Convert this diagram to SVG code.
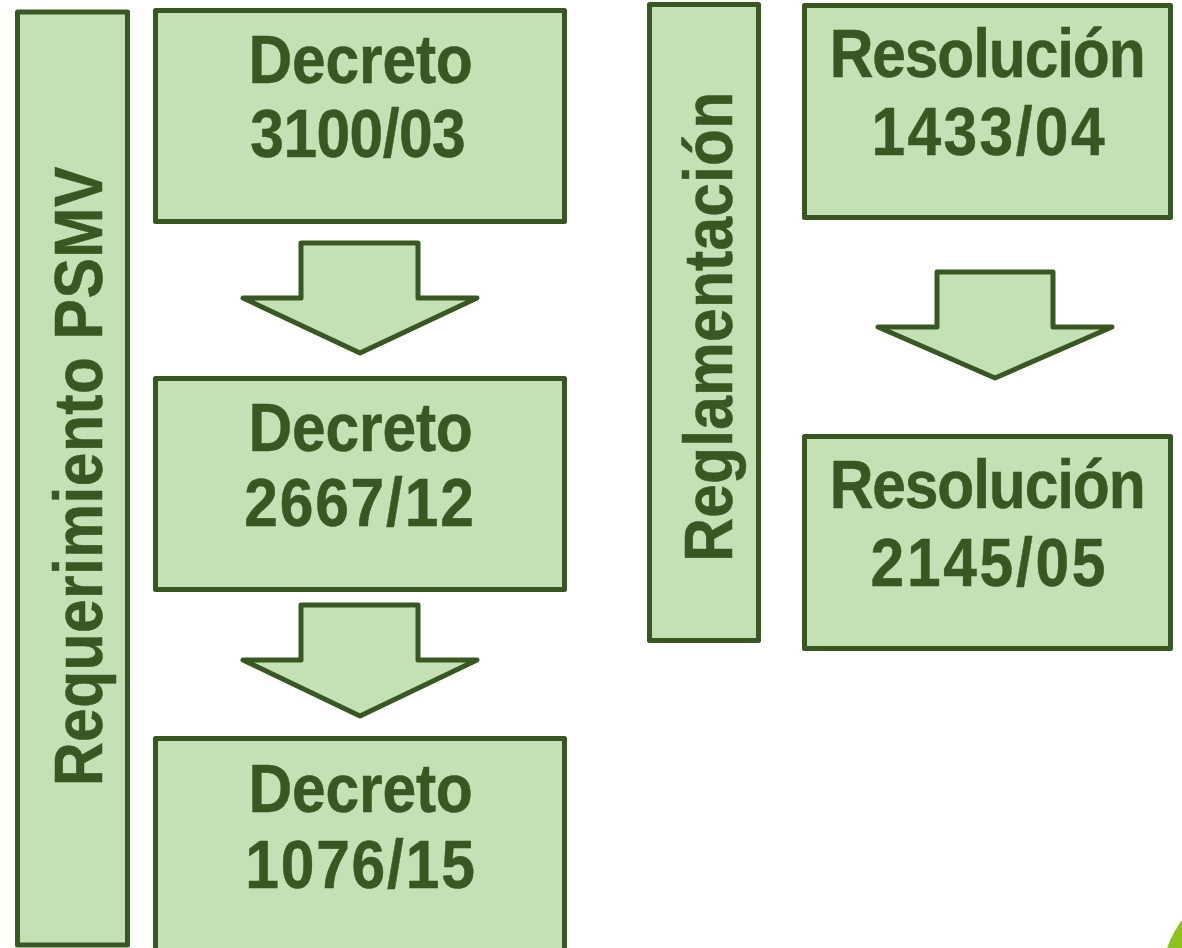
<svg xmlns="http://www.w3.org/2000/svg" width="1182" height="948" viewBox="0 0 1182 948">
  <style>
    .box { fill: #c5e0b4; stroke: #385723; stroke-width: 5; stroke-linejoin: round; }
    .arrow { fill: #c5e0b4; stroke: #385723; stroke-width: 5; stroke-linejoin: round; }
    .t { font-family: "Liberation Sans", Arial, sans-serif; font-weight: bold; font-size: 68px; fill: #385723; stroke: #385723; stroke-width: 0.5px; text-anchor: middle; }
  </style>
  <rect width="1182" height="948" fill="#ffffff"/>

  <g id="req-psmv">
    <rect class="box" x="17.5" y="12" width="110" height="933"/>
    <text class="t" transform="translate(101.7,476.3) rotate(-90) scale(0.89,1)" textLength="696" lengthAdjust="spacing">Requerimiento PSMV</text>
  </g>

  <g id="decreto-3100">
    <rect class="box" x="155.5" y="10.5" width="409" height="211"/>
    <text class="t" transform="translate(360.7,82.7) scale(0.89,1)" textLength="252" lengthAdjust="spacing">Decreto</text>
    <text class="t" transform="translate(358,157.3) scale(0.89,1)" textLength="242" lengthAdjust="spacing">3100/03</text>
  </g>

  <g id="decreto-2667">
    <rect class="box" x="155.5" y="378.5" width="409" height="211"/>
    <text class="t" transform="translate(360.7,451) scale(0.89,1)" textLength="252" lengthAdjust="spacing">Decreto</text>
    <text class="t" transform="translate(359,526) scale(0.89,1)" textLength="258" lengthAdjust="spacing">2667/12</text>
  </g>

  <g id="decreto-1076">
    <rect class="box" x="155.5" y="738.5" width="409" height="260"/>
    <text class="t" transform="translate(360.7,811.7) scale(0.89,1)" textLength="252" lengthAdjust="spacing">Decreto</text>
    <text class="t" transform="translate(360,888.3) scale(0.89,1)" textLength="258" lengthAdjust="spacing">1076/15</text>
  </g>

  <g id="reglamentacion">
    <rect class="box" x="649.5" y="4.5" width="109" height="636"/>
    <text class="t" transform="translate(731.7,326.7) rotate(-90) scale(0.89,1)" textLength="528" lengthAdjust="spacing">Reglamentación</text>
  </g>

  <g id="resolucion-1433">
    <rect class="box" x="804.5" y="5.5" width="366" height="212"/>
    <text class="t" transform="translate(987.7,77.3) scale(0.89,1)" textLength="355" lengthAdjust="spacing">Resolución</text>
    <text class="t" transform="translate(988,154.7) scale(0.89,1)" textLength="262" lengthAdjust="spacing">1433/04</text>
  </g>

  <g id="resolucion-2145">
    <rect class="box" x="804.5" y="436.5" width="366" height="212"/>
    <text class="t" transform="translate(987.7,508.3) scale(0.89,1)" textLength="355" lengthAdjust="spacing">Resolución</text>
    <text class="t" transform="translate(988,586) scale(0.89,1)" textLength="264" lengthAdjust="spacing">2145/05</text>
  </g>

  <g id="connectors">
    <polygon class="arrow" points="301,243 418,243 418,298 477,298 360,353 243,298 301,298"/>
    <polygon class="arrow" points="301,605 418,605 418,660 477,660 360,716 243,660 301,660"/>
    <polygon class="arrow" points="937,272 1053,272 1053,327 1112,327 995,378 878,327 937,327"/>
  </g>

  <path d="M1182,920 Q1173,932 1167,948 L1182,948 Z" fill="#8dc21f"/>
</svg>
